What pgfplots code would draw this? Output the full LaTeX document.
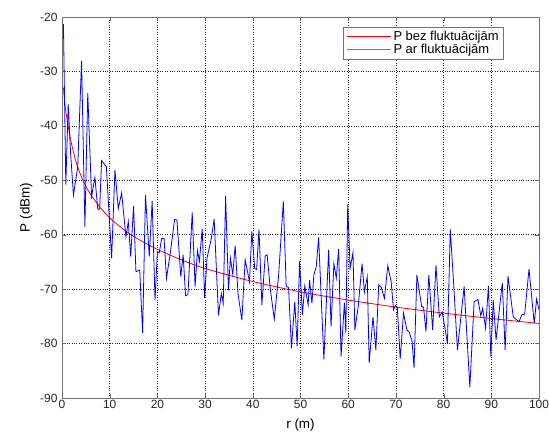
\documentclass[border=0pt]{standalone}
\usepackage{pgfplots}
\pgfplotsset{compat=1.18}
\usepackage{fontspec}
\setmainfont{Liberation Sans}

\definecolor{pred}{RGB}{255,0,0}
\definecolor{pblue}{RGB}{0,0,255}

\begin{document}
\begin{tikzpicture}
  \begin{axis}[
    scale only axis,
    width=477bp, height=381bp,
    xmin=0, xmax=100, ymin=-90, ymax=-20,
    xtick={0,10,...,100}, ytick={-90,-80,...,-20},
    grid=major,
    major grid style={dotted, black!85, line width=0.6bp},
    axis line style={black!55, line width=0.8bp},
    tick align=inside, xtick pos=both, ytick pos=both,
    major tick length=4bp,
    tick style={black!60},
    /pgf/number format/assume math mode=true,
    ticklabel style={font=\fontsize{12}{14}\selectfont, text=black!85},
    xticklabel style={yshift=1bp},
    yticklabel style={xshift=-1bp},
    xlabel={r (m)}, ylabel={P (dBm)},
    label style={font=\fontsize{13.5}{16}\selectfont},
    xlabel style={yshift=-3bp},
    ylabel style={yshift=1bp},
    legend cell align=left,
    legend style={at={(1,1)}, anchor=north east, xshift=-35bp, yshift=-10bp,
      font=\fontsize{13}{15}\selectfont, draw=black!55, line width=0.8bp,
      row sep=-2bp, inner xsep=3bp, inner ysep=2bp},
  ]
    \coordinate (sw) at (rel axis cs:0,0);
    \coordinate (ne) at (rel axis cs:1,1);

    % P bez fluktuacijam
    \addplot[draw=pred, line width=0.8bp, smooth,
      legend image code/.code={\draw[pred, line width=1bp] (0bp,0bp) -- (44bp,0bp);}]
      coordinates {
      (0.3,-33) (0.6,-36) (1,-38.5) (1.5,-41) (2,-43.3) (3,-46.8)
      (4,-49.2) (5,-51.1) (6,-52.6) (8,-55.0) (10,-56.9) (12,-58.4)
      (15,-60.3) (20,-62.7) (25,-64.6) (30,-66.2) (40,-68.6) (50,-70.5)
      (60,-72.0) (70,-73.3) (80,-74.4) (90,-75.4) (100,-76.3)
    };
    \addlegendentry{P bez fluktuācijām}

    % P ar fluktuacijam
    \addplot[draw=pblue, line width=0.8bp,
      legend image code/.code={\draw[pblue!60, line width=1.6bp] (0bp,0bp) -- (44bp,0bp);}]
      coordinates {
      (0.3,-21.3) (0.8,-50.8) (1.3,-36) (1.8,-45) (2.4,-52.7) (3.3,-47.5)
      (4.1,-28) (4.8,-58.5) (5.4,-34) (6.2,-53) (6.9,-49.5) (7.5,-55.3)
      (7.9,-55.3) (8.3,-46.4) (9.3,-47.5) (10.4,-64.3) (11.1,-48.1)
      (11.8,-55.2) (12.5,-52.3) (13.4,-60.4) (13.9,-57.6) (14.4,-64)
      (15,-54.7) (15.5,-66.8) (16.3,-66.5) (16.9,-78.1) (17.5,-52.7)
      (18.3,-64) (18.9,-53.8) (19.5,-72) (20,-63.1) (20.4,-63.3)
      (20.9,-60.7) (21.4,-60.7) (21.9,-68) (22.7,-63.4) (23.6,-57.2)
      (24.1,-57.3) (24.9,-67.7) (25.4,-63.7) (25.9,-71.2) (26.4,-71)
      (27.3,-55.9) (27.9,-69.5) (28.4,-62.9) (28.8,-64.9) (29.4,-58.9)
      (29.9,-71.6) (30.4,-64.3) (31.3,-60.7) (31.9,-57.1) (32.8,-74.8)
      (33.4,-70.8) (33.8,-72.6) (34.3,-52.9) (34.9,-70.2) (35.3,-64.3)
      (35.8,-67.3) (36.3,-62) (36.9,-70.8) (37.7,-75.7) (38.4,-64.6)
      (39.3,-68.6) (39.8,-59.4) (40.4,-66.2) (40.8,-66.4) (41.3,-59)
      (41.9,-72.9) (42.6,-63.9) (43,-63.7) (43.7,-70.2) (44.5,-75.5)
      (45.4,-67.6) (46.4,-53.9) (47,-69.5) (47.5,-69.7) (48.1,-80.9)
      (48.8,-72.3) (49.3,-80.5) (49.8,-64.9) (50.4,-74.7) (50.9,-69.4)
      (51.6,-72.9) (51.9,-68.3) (52.4,-72.6) (52.8,-67.4) (53.3,-65.9)
      (53.8,-60.5) (54.9,-82.9) (55.9,-62.8) (56.4,-76.9) (57,-65.3)
      (57.5,-68) (58,-62.6) (58.5,-82.4) (59.2,-72.5) (59.5,-78)
      (59.9,-54.4) (60.4,-66.2) (61,-63.3) (61.4,-77.5) (62.1,-73.2)
      (62.9,-65.3) (63.4,-70.5) (64,-67.7) (64.4,-83.6) (65.2,-75.1)
      (65.8,-81.2) (66.4,-69.2) (66.9,-69.6) (67.6,-71.7) (68.3,-65.7)
      (69,-68.6) (69.5,-73.8) (69.9,-73) (70.3,-73.4) (70.9,-82.8)
      (71.6,-74.4) (72.3,-77.5) (72.8,-77.9) (73.4,-79.6) (73.8,-84.5)
      (74.4,-67.4) (75.4,-73.2) (75.8,-73.3) (76.3,-77.8) (76.9,-67.4)
      (77.7,-77.5) (78.4,-65.6) (79.1,-75.1) (79.7,-74.2) (80.3,-77.2)
      (80.8,-80) (81.4,-59) (82.1,-68.9) (82.9,-81.2) (84.3,-69.5)
      (85.5,-88) (86.4,-72.3) (87.2,-71.9) (87.8,-74.9) (88.2,-73.5)
      (88.8,-77.2) (89.4,-69.4) (89.9,-82.4) (90.4,-72) (91,-79.3)
      (92.3,-68.8) (92.9,-81.2) (93.5,-67.6) (94.6,-75.1) (95.8,-76)
      (96.4,-74.7) (97,-74.6) (97.9,-66.3) (99,-76.3) (99.5,-71.8)
      (100,-73.8)
    };
    \addlegendentry{P ar fluktuācijām}
  \end{axis}
  \pgfresetboundingbox
  \path[use as bounding box] ([xshift=-62bp,yshift=-39bp]sw) rectangle ([xshift=10bp,yshift=17bp]ne);
\end{tikzpicture}
\end{document}
